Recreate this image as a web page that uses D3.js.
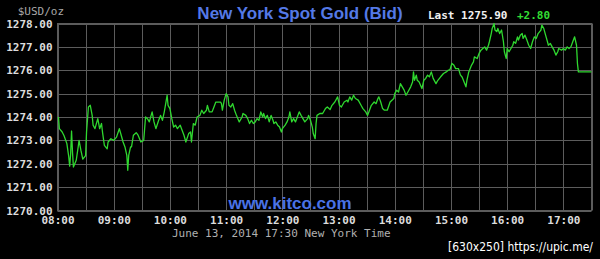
<!DOCTYPE html>
<html><head><meta charset="utf-8">
<script src="https://cdn.jsdelivr.net/npm/d3@7"></script>
<style>
html,body{margin:0;padding:0;background:#000;}
svg{display:block;}
</style></head>
<body>
<svg id="c" width="600" height="259"></svg>
<script>
// Minutes after 08:00 New York time
const minutes = [1,2,5,7,10,12,13,14,15,16,17,20,22,23,25,27,30,31,33,35,37,38,40,42,43,45,47,48,50,53,54,57,60,63,66,68,70,72,74,75,76,78,79,81,84,86,89,92,94,96,98,101,103,105,108,110,112,114,117,118,120,122,124,126,128,131,133,135,137,140,142,143,145,
147,149,152,154,156,159,160,162,165,167,169,174,175,176,178,180,182,183,185,187,189,191,194,197,198,201,203,205,207,209,211,213,215,217,219,220,222,224,226,228,230,231,233,235,237,239,240,243,245,247,248,250,252,254,256,258,260,262,264,267,268,270,272,273,275,276,277,280,283,285,
286,288,291,293,296,299,301,303,306,309,310,312,314,316,318,321,324,326,329,331,333,335,338,340,342,343,345,347,349,352,355,357,359,360,362,364,366,368,370,372,374,377,379,380,381,383,384,386,389,391,393,395,397,399,401,404,406,409,412,415,417,419,421,423,425,428,
430,432,434,436,437,439,442,444,445,448,450,452,454,456,458,460,461,463,464,466,467,469,470,472,474,476,477,479,480,482,484,486,487,489,491,492,494,496,497,499,501,503,505,507,509,511,513,516,517,519,521,523,524,526,528,530,532,534,535,538,540,542,544,546,548,550,552,554,555,556,570];
// Bid price, USD per ounce
const prices = [1274.00,1273.50,1273.36,1273.20,1272.86,1272.30,1271.90,1272.40,1273.40,1272.50,1271.86,1272.15,1272.70,1273.00,1272.57,1272.20,1272.35,1273.36,1274.43,1274.50,1274.07,1273.65,1273.50,1273.79,1273.93,1273.50,1273.72,1273.36,1272.79,1272.64,1272.93,1273.07,1273.00,1273.14,1273.50,1273.22,1272.93,1272.72,1272.36,1271.72,1272.36,1272.72,1272.72,1273.22,1273.33,1273.22,1272.93,1273.00,1274.00,1273.93,1273.79,1274.22,1273.79,1273.50,1273.86,1274.07,1273.86,1274.22,1274.93,1274.50,1274.36,1273.93,1273.57,1273.65,1273.50,1273.65,1273.43,1273.22,1272.93,1273.29,1273.36,1272.93,1273.72,
1273.65,1274.00,1274.07,1274.29,1274.15,1274.29,1274.50,1274.22,1274.22,1274.43,1274.64,1274.64,1274.57,1274.29,1274.72,1275.00,1274.86,1274.50,1274.43,1274.57,1274.29,1274.07,1273.79,1274.00,1274.15,1274.07,1273.93,1273.72,1273.86,1273.72,1273.79,1273.93,1273.86,1274.22,1274.00,1274.15,1273.93,1274.07,1273.79,1274.07,1273.86,1273.72,1273.79,1273.65,1273.57,1273.36,1273.50,1273.65,1273.79,1274.00,1274.22,1273.79,1273.93,1273.79,1274.00,1274.22,1274.07,1273.93,1273.79,1273.93,1274.07,1273.86,1273.57,1273.29,1273.07,1273.72,1274.07,1274.15,1274.15,1274.29,
1274.36,1274.43,1274.32,1274.50,1274.64,1274.86,1274.50,1274.43,1274.64,1274.72,1274.64,1274.86,1274.72,1274.93,1274.79,1274.72,1274.50,1274.36,1274.22,1274.07,1274.29,1274.50,1274.64,1274.57,1274.79,1274.86,1274.64,1274.36,1274.29,1274.29,1274.64,1274.72,1274.79,1275.00,1275.15,1275.07,1275.43,1275.29,1275.15,1274.93,1275.07,1275.29,1275.50,1275.93,1275.57,1275.79,1275.57,1275.50,1275.22,1275.57,1275.65,1275.79,1275.72,1275.93,1275.65,1275.43,1275.57,1275.72,1275.86,1275.93,1276.00,1276.03,1276.29,1276.22,1276.07,1276.07,
1275.80,1275.70,1275.50,1275.29,1275.57,1275.93,1276.22,1276.36,1276.57,1276.50,1276.72,1276.86,1276.93,1277.00,1276.86,1277.07,1277.22,1277.57,1277.79,1278.00,1277.72,1277.65,1277.79,1277.57,1277.72,1277.22,1276.79,1276.50,1276.93,1276.79,1276.93,1277.07,1277.22,1277.15,1277.43,1277.29,1277.50,1277.57,1277.36,1277.50,1277.29,1277.07,1276.93,1277.22,1277.43,1277.36,1277.57,1277.72,1277.93,1277.79,1277.50,1277.22,1277.07,1277.15,1277.00,1276.86,1276.65,1276.79,1276.93,1276.86,1276.93,1276.86,1277.00,1276.93,1277.00,1277.22,1277.43,1277.07,1276.29,1275.93,1275.93];
const priceTicks = [1270,1271,1272,1273,1274,1275,1276,1277,1278];
const hourTicks = ["08:00","09:00","10:00","11:00","12:00","13:00","14:00","15:00","16:00","17:00"];
const titleText = "New York Spot Gold (Bid)";
const unitText = "$USD/oz";
const lastText = "Last 1275.90";
const changeText = "+2.80";
const siteText = "www.kitco.com";
const dateText = "June 13, 2014 17:30 New York Time";
const watermark = "[630x250] https://upic.me/";

const svg = d3.select("#c");
const L = 57.5, R = 591.5, T = 23.5, B = 210.5;
const x = d3.scaleLinear().domain([0, 570]).range([L, R]);
const y = d3.scaleLinear().domain([1270, 1278]).range([B, T]);
const mono = "'DejaVu Sans Mono', 'Liberation Mono', monospace";
const sans = "'Liberation Sans', Arial, sans-serif";
const grid = "#5c5c5c";

svg.append("rect").attr("width", 600).attr("height", 259).attr("fill", "#000");

// vertical grid every 30 minutes
const halfHours = d3.range(0, 571, 30);
svg.append("g").selectAll("line").data(halfHours).join("line")
  .attr("x1", d => Math.round(x(d)) + 0.5).attr("x2", d => Math.round(x(d)) + 0.5)
  .attr("y1", T).attr("y2", B)
  .attr("stroke", grid).attr("stroke-width", 1);
// horizontal grid
svg.append("g").selectAll("line").data(priceTicks).join("line")
  .attr("x1", L).attr("x2", R)
  .attr("y1", d => Math.round(y(d)) + 0.5).attr("y2", d => Math.round(y(d)) + 0.5)
  .attr("stroke", grid).attr("stroke-width", 1);
svg.append("rect").attr("x", L).attr("y", T).attr("width", R - L).attr("height", B - T)
  .attr("fill", "none").attr("stroke", grid);

// y axis
const yAxis = d3.axisLeft(y).tickValues(priceTicks).tickFormat(d3.format(".2f")).tickSize(0).tickPadding(5);
const gy = svg.append("g").attr("transform", `translate(${L},0)`).call(yAxis);
gy.select(".domain").remove();
gy.selectAll("text").attr("fill", "#dcdcdc").attr("font-family", mono)
  .attr("font-size", 11).attr("font-weight", "bold");

// x axis
const toMin = s => { const [h, m] = s.split(":").map(Number); return (h - 8) * 60 + m; };
const xAxis = d3.axisBottom(x).tickValues(hourTicks.map(toMin))
  .tickFormat((d, i) => hourTicks[i]).tickSize(0).tickPadding(6);
const gx = svg.append("g").attr("transform", `translate(0,${B})`).call(xAxis);
gx.select(".domain").remove();
gx.selectAll("text").attr("fill", "#dcdcdc").attr("font-family", mono)
  .attr("font-size", 11).attr("font-weight", "bold");

// price line
const data = minutes.map((m, i) => ({m, p: prices[i]}));
svg.append("path").datum(data)
  .attr("fill", "none").attr("stroke", "#2fd82f").attr("stroke-width", 1.3)
  .attr("stroke-linejoin", "round")
  .attr("d", d3.line().x(d => x(d.m)).y(d => y(d.p)));

// texts
svg.append("text").attr("x", 300).attr("y", 19).attr("text-anchor", "middle")
  .attr("font-family", sans).attr("font-weight", "bold").attr("font-size", 17)
  .attr("fill", "#5479e6").text(titleText);
svg.append("text").attr("x", 64).attr("y", 15).attr("text-anchor", "end")
  .attr("font-family", mono).attr("font-size", 11).attr("fill", "#a8a8a8").text(unitText);
svg.append("text").attr("x", 428).attr("y", 19)
  .attr("font-family", mono).attr("font-weight", "bold").attr("font-size", 11)
  .attr("fill", "#f0f0f0").text(lastText);
svg.append("text").attr("x", 517).attr("y", 19)
  .attr("font-family", mono).attr("font-weight", "bold").attr("font-size", 11)
  .attr("fill", "#33dd33").text(changeText);
svg.append("text").attr("x", 290).attr("y", 209).attr("text-anchor", "middle")
  .attr("font-family", sans).attr("font-weight", "bold").attr("font-size", 17)
  .attr("fill", "#4a72e6").text(siteText);
svg.append("text").attr("x", 172).attr("y", 237)
  .attr("font-family", mono).attr("font-size", 11).attr("fill", "#b0b0b0").text(dateText);
svg.append("text").attr("x", 448).attr("y", 251)
  .attr("font-family", "'DejaVu Sans Condensed', 'DejaVu Sans', sans-serif").attr("font-size", 12)
  .attr("textLength", 145).attr("lengthAdjust", "spacingAndGlyphs")
  .attr("fill", "#ffffff").text(watermark);
</script>
</body></html>
